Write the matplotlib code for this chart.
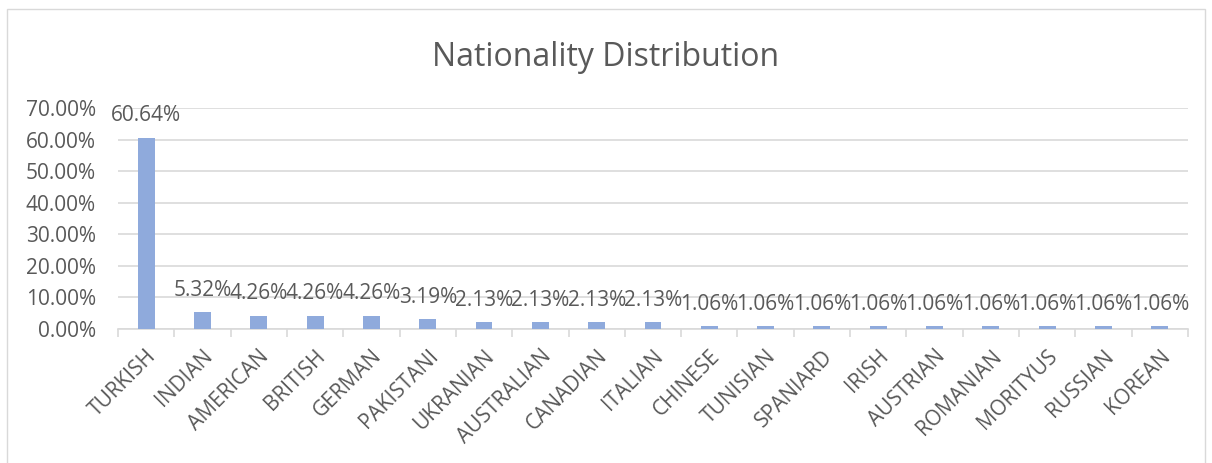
import matplotlib
matplotlib.use('Agg')
import matplotlib.pyplot as plt
import numpy as np
from matplotlib.patches import Rectangle
from matplotlib.ticker import FuncFormatter, FixedLocator

# data
nationalities = ['TURKISH', 'INDIAN', 'AMERICAN', 'BRITISH', 'GERMAN', 'PAKISTANI', 'UKRANIAN',
                 'AUSTRALIAN', 'CANADIAN', 'ITALIAN', 'CHINESE', 'TUNISIAN', 'SPANIARD', 'IRISH',
                 'AUSTRIAN', 'ROMANIAN', 'MORITYUS', 'RUSSIAN', 'KOREAN']
shares = [0.6064, 0.0532, 0.0426, 0.0426, 0.0426, 0.0319, 0.0213, 0.0213, 0.0213, 0.0213,
          0.0106, 0.0106, 0.0106, 0.0106, 0.0106, 0.0106, 0.0106, 0.0106, 0.0106]
title = 'Nationality Distribution'

# style
bar_color = '#8FAADC'
text_color = '#595959'
grid_color = '#D9D9D9'
fs = 15

plt.rcParams['font.family'] = ['Open Sans', 'DejaVu Sans']

fig = plt.figure(figsize=(12.12, 4.63), dpi=100)
fig.patches.append(Rectangle((7 / 1212, -0.01), 1198 / 1212, 1 - 9 / 463 + 0.01,
                             transform=fig.transFigure, fill=False, edgecolor=grid_color, lw=1))
ax = fig.add_axes([118 / 1212, 1 - 329 / 463, 1070 / 1212, 221 / 463])

x = np.arange(len(nationalities))
ax.bar(x, shares, width=0.3, color=bar_color, zorder=3)

for xi, v in zip(x, shares):
    ax.annotate(f'{v * 100:.2f}%', (xi, v), xytext=(0, 8), textcoords='offset points',
                ha='center', va='bottom', fontsize=fs, color=text_color, zorder=4)

ax.set_xlim(-0.5, len(nationalities) - 0.5)
ax.set_ylim(0, 0.7)
ax.set_yticks(np.arange(0, 0.71, 0.1))
ax.yaxis.set_major_formatter(FuncFormatter(lambda v, p: f'{v * 100:.2f}%'))
ax.yaxis.grid(True, color=grid_color, lw=1.2, zorder=0)
ax.tick_params(axis='y', length=0, labelsize=fs, labelcolor=text_color, pad=16)

ax.set_xticks(x)
ax.set_xticklabels(nationalities, rotation=45, ha='right', rotation_mode='anchor')
ax.tick_params(axis='x', which='major', length=0, labelsize=fs, labelcolor=text_color, pad=12)
ax.xaxis.set_minor_locator(FixedLocator(np.arange(-0.5, len(nationalities), 1)))
ax.tick_params(axis='x', which='minor', length=6, color=grid_color, width=1.2)

for s in ['top', 'right', 'left']:
    ax.spines[s].set_visible(False)
ax.spines['bottom'].set_color(grid_color)
ax.spines['bottom'].set_linewidth(1.2)

fig.text(0.5, 1 - 57 / 463, title, ha='center', va='center', fontsize=23, color=text_color)

fig.savefig('out.png', dpi=100)
